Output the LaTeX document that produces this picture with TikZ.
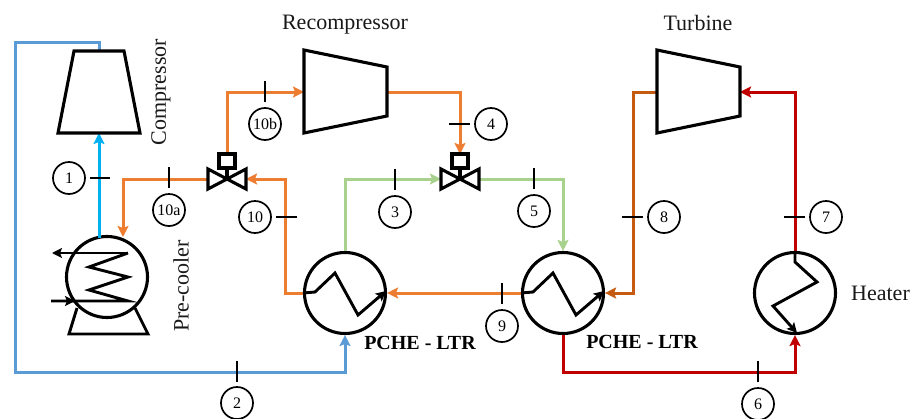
\documentclass[tikz,border=0pt]{standalone}
\usepackage{fontspec}
\setmainfont{Liberation Serif}
\usetikzlibrary{arrows.meta}
\definecolor{cblue}{HTML}{5B9BD5}
\definecolor{ccyan}{HTML}{00B0F0}
\definecolor{corange}{HTML}{ED7D31}
\definecolor{cgreen}{HTML}{A9D18E}
\definecolor{cred}{HTML}{C00000}
\definecolor{cbrown}{HTML}{C55A11}
\tikzset{
  pipe/.style={line width=3pt,line join=miter},
  pipearrow/.style={pipe,-{Stealth[length=11pt,width=11pt,inset=2pt]}},
  equip/.style={line width=3.1pt,draw=black,line join=miter},
  hx/.style={circle,draw=black,line width=3.1pt,minimum size=81pt,inner sep=0pt,fill=none},
  coil/.style={line width=2.9pt,draw=black,line join=miter},
  coilarrow/.style={coil,-{Stealth[length=10pt,width=10pt,inset=2pt]}},
  tick/.style={line width=1.7pt,draw=black},
  tag/.style={circle,draw=black,line width=1.7pt,minimum size=32pt,inner sep=0pt,
    font=\fontsize{16}{18}\selectfont,text=black},
  lbl/.style={font=\fontsize{22}{24}\selectfont,text=black!90,inner sep=0pt},
  blbl/.style={font=\fontsize{20}{22}\selectfont\bfseries,text=black,inner sep=0pt}
}
\begin{document}
\begin{tikzpicture}[x=1pt,y=-1pt]
\useasboundingbox (0,0) rectangle (911,418);
% anchors of the machines
\coordinate (compIn) at (99,133);
\coordinate (compOut) at (99,51);
\coordinate (recIn) at (304,92);
\coordinate (recOut) at (387,92);
\coordinate (turbIn) at (740,92);
\coordinate (turbOut) at (657,92);
\coordinate (vaL) at (208,179);
\coordinate (vaR) at (246,179);
\coordinate (vaC) at (227,179);
\coordinate (vaT) at (227,154);
\coordinate (vbL) at (441,179);
\coordinate (vbR) at (479,179);
\coordinate (vbC) at (460,179);
\coordinate (vbT) at (460,154);
\node[hx] (pre) at (107,277) {};
\node[hx] (hxa) at (345,293) {};
\node[hx] (hxb) at (563,293) {};
\node[hx] (heat) at (795,293) {};
% pipes
\draw[pipearrow,cblue] (compOut) |- (15,42) |- (345,372) -- (hxa.south);
\draw[pipearrow,ccyan] (99,238) -- (compIn);
\draw[pipearrow,corange] (vaL) -| (123,237);
\draw[pipearrow,corange] (vaT) |- (recIn);
\draw[pipearrow,corange] (hxa.west) -| (285,179) -- (vaR);
\draw[pipearrow,corange] (recOut) -| (vbT);
\draw[pipearrow,cgreen] (hxa.north) |- (vbL);
\draw[pipearrow,cgreen] (vbR) -| (hxb.north);
\draw[pipearrow,corange] (hxb.west) -- (hxa.east);
\draw[pipearrow,cred] (hxb.south) |- (795,372) -- (heat.south);
\draw[pipearrow,cred] (heat.north) |- (turbIn);
\draw[pipearrow,cbrown] (turbOut) -| (633,293) -- (hxb.east);
% machines
\draw[equip] (74,51) -- (124,51) -- (140,133) -- (58,133) -- cycle;
\draw[equip] (304,50) -- (387,67) -- (387,116) -- (304,133) -- cycle;
\draw[equip] (657,50) -- (740,67) -- (740,116) -- (657,133) -- cycle;
% valves
\foreach \c/\l in {227/a,460/b}{
  \draw[equip] (\c-19,169) -- (\c+19,189) -- (\c+19,169) -- (\c-19,189) -- cycle;
  \draw[equip] (\c,179) -- (\c,168);
  \draw[equip,fill=white] (\c-8,154) rectangle (\c+8,168);
}
% pre-cooler
\draw[coil] (77,308) -- (69,334) -- (148,334) -- (135,308);
\draw[coilarrow] (128,253) -- (52,253);
\draw[coil] (128,253) -- (89,267) -- (128,277) -- (89,290) -- (128,301) -- (51,301);
\draw[coilarrow] (60,301) -- (75,301);
% exchanger coils
\draw[coilarrow] (hxa.west) -- (315,292) -- (335,273) -- (358,315) -- (386,291);
\draw[coilarrow] (hxb.west) -- (533,292) -- (553,273) -- (576,315) -- (604,291);
\draw[coilarrow] (heat.north) -- (795,262) -- (817,282) -- (773,306) -- (797,333);
% tags and ticks
\node[tag] (t1) at (69,178) {1};
\draw[tick] (t1.east) ++(4,0) -- ++(20,0);
\node[tag] (t2) at (237,403) {2};
\draw[tick] (t2.north) ++(0,-4.5) -- ++(0,-20.5);
\node[tag] (t3) at (395,212) {3};
\draw[tick] (t3.north) ++(0,-5) -- ++(0,-21);
\node[tag] (t4) at (491,124) {4};
\draw[tick] (t4.west) ++(-4,0) -- ++(-21,0);
\node[tag] (t5) at (534,211) {5};
\draw[tick] (t5.north) ++(0,-5) -- ++(0,-21);
\node[tag] (t6) at (758,404) {6};
\draw[tick] (t6.north) ++(0,-5) -- ++(0,-21);
\node[tag] (t7) at (826,217) {7};
\draw[tick] (t7.west) ++(-4,0) -- ++(-21,0);
\node[tag] (t8) at (664,217) {8};
\draw[tick] (t8.west) ++(-4,0) -- ++(-21,0);
\node[tag] (t9) at (502,326) {9};
\draw[tick] (t9.north) ++(0,-5) -- ++(0,-21);
\node[tag] (t10) at (255,217) {10};
\draw[tick] (t10.east) ++(4,0) -- ++(21,0);
\node[tag] (t10a) at (169,210) {10a};
\draw[tick] (t10a.north) ++(0,-5) -- ++(0,-21);
\node[tag] (t10b) at (265,124) {10b};
\draw[tick] (t10b.north) ++(0,-5) -- ++(0,-21);
% labels
\node[lbl,rotate=90] (lcomp) at (161,92) {Compressor};
\node[lbl,rotate=90] (lpre) at (181,286) {Pre-cooler};
\node[lbl] (lrec) at (345,25) {Recompressor};
\node[lbl] (ltur) at (698,23) {Turbine};
\node[lbl,anchor=west] (lhea) at (851,293) {Heater};
\node[blbl] (la) at (420,343) {PCHE - LTR};
\node[blbl] (lb) at (642,342) {PCHE - LTR};
\end{tikzpicture}
\end{document}
